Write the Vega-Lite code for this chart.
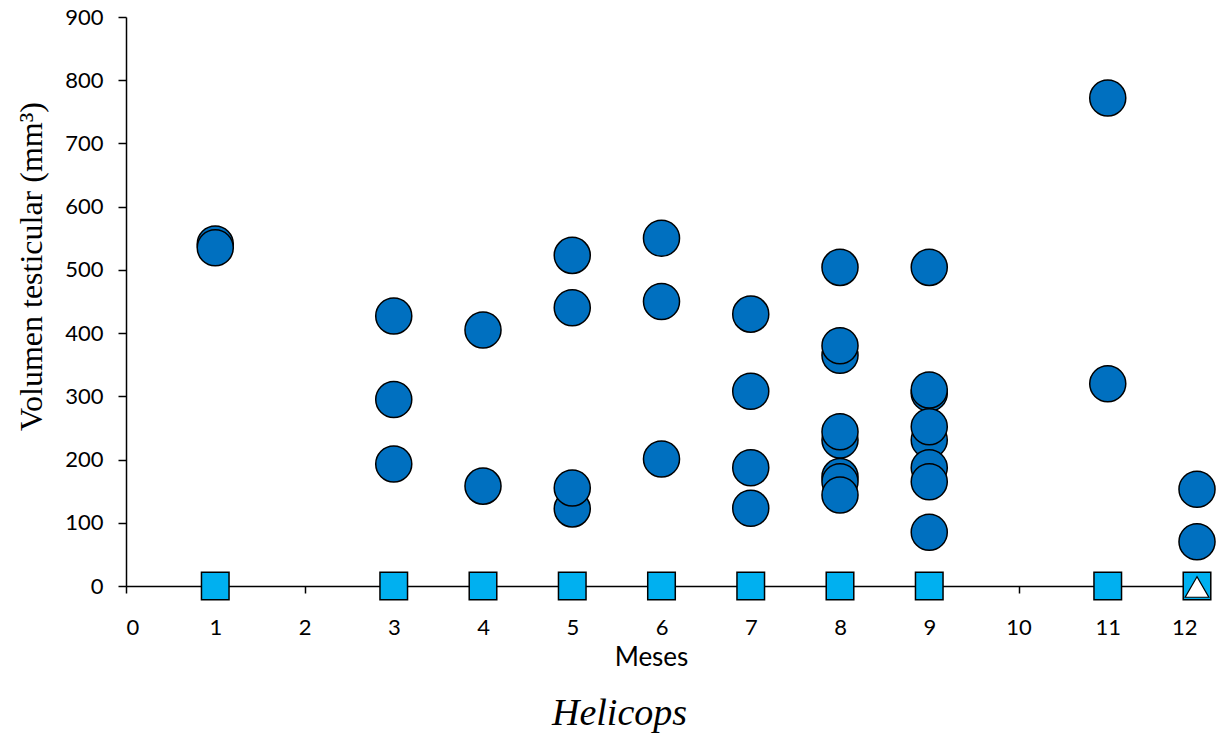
{
  "$schema": "https://vega.github.io/schema/vega-lite/v6.json",
  "width": 1071,
  "height": 569,
  "autosize": {"type": "none"},
  "padding": {"left": 126, "top": 17, "right": 22, "bottom": 152},
  "background": "white",
  "title": {"text": "Helicops", "orient": "bottom", "font": "Liberation Serif", "fontStyle": "italic", "fontWeight": "normal", "fontSize": 38, "color": "black", "offset": 25, "dx": -42},
  "config": {"view": {"stroke": null}, "axis": {"grid": false, "domainColor": "black", "tickColor": "black", "domainWidth": 1.5, "tickWidth": 1.5, "labelColor": "black", "titleColor": "black"}},
  "datasets": {
    "circ": [
      {"mes": 1, "vol": 541}, {"mes": 1, "vol": 535},
      {"mes": 3, "vol": 427}, {"mes": 3, "vol": 295}, {"mes": 3, "vol": 193},
      {"mes": 4, "vol": 405}, {"mes": 4, "vol": 158},
      {"mes": 5, "vol": 523}, {"mes": 5, "vol": 440}, {"mes": 5, "vol": 122}, {"mes": 5, "vol": 155},
      {"mes": 6, "vol": 550}, {"mes": 6, "vol": 450}, {"mes": 6, "vol": 201},
      {"mes": 7, "vol": 430}, {"mes": 7, "vol": 308}, {"mes": 7, "vol": 187}, {"mes": 7, "vol": 123},
      {"mes": 8, "vol": 504}, {"mes": 8, "vol": 365}, {"mes": 8, "vol": 380}, {"mes": 8, "vol": 231}, {"mes": 8, "vol": 244}, {"mes": 8, "vol": 173}, {"mes": 8, "vol": 165}, {"mes": 8, "vol": 144},
      {"mes": 9, "vol": 504}, {"mes": 9, "vol": 305}, {"mes": 9, "vol": 310}, {"mes": 9, "vol": 231}, {"mes": 9, "vol": 252}, {"mes": 9, "vol": 187}, {"mes": 9, "vol": 165}, {"mes": 9, "vol": 85},
      {"mes": 11, "vol": 772}, {"mes": 11, "vol": 320},
      {"mes": 12, "vol": 153}, {"mes": 12, "vol": 70}
    ],
    "sq": [
      {"mes": 1, "vol": 0}, {"mes": 3, "vol": 0}, {"mes": 4, "vol": 0}, {"mes": 5, "vol": 0}, {"mes": 6, "vol": 0},
      {"mes": 7, "vol": 0}, {"mes": 8, "vol": 0}, {"mes": 9, "vol": 0}, {"mes": 11, "vol": 0}, {"mes": 12, "vol": 0}
    ],
    "tri": [{"mes": 12, "vol": 0}]
  },
  "encoding": {
    "x": {"field": "mes", "type": "quantitative", "scale": {"domain": [0, 12], "nice": false, "zero": false},
      "axis": {"title": "Meses", "values": [0,1,2,3,4,5,6,7,8,9,10,11,12], "tickSize": 7, "labelFont": "Lato", "labelFontSize": 22, "labelPadding": 24, "titleFont": "Lato", "titleFontSize": 26, "titleFontWeight": "normal", "titlePadding": 6, "titleX": 525}},
    "y": {"field": "vol", "type": "quantitative", "scale": {"domain": [0, 900], "nice": false},
      "axis": {"title": "Volumen testicular (mm³)", "values": [0,100,200,300,400,500,600,700,800,900], "tickSize": 8, "labelFont": "Lato", "labelFontSize": 22, "labelPadding": 15, "titleFont": "Liberation Serif", "titleFontSize": 32, "titleFontWeight": "normal", "titleX": -95, "titleY": 249, "titleBaseline": "middle", "titleAngle": -90}}
  },
  "layer": [
    {"data": {"name": "circ"}, "mark": {"type": "point", "shape": "circle", "filled": true, "fill": "#0070C0", "stroke": "black", "strokeWidth": 1.5, "size": 1300, "opacity": 1}},
    {"data": {"name": "sq"}, "mark": {"type": "point", "shape": "square", "filled": true, "fill": "#00B0F0", "stroke": "black", "strokeWidth": 1.5, "size": 760, "opacity": 1}},
    {"data": {"name": "tri"}, "mark": {"type": "point", "shape": "triangle-up", "filled": true, "fill": "white", "stroke": "black", "strokeWidth": 1.2, "size": 560, "opacity": 1, "yOffset": 1}}
  ]
}
